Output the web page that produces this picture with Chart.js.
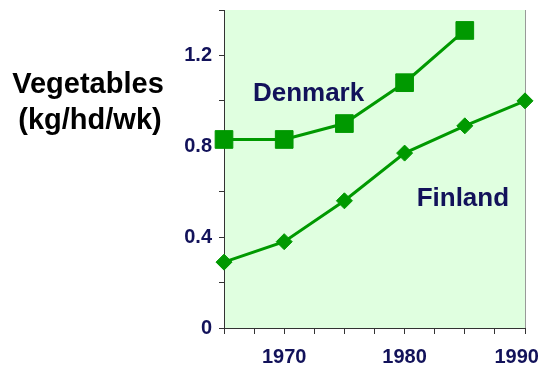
<!DOCTYPE html>
<html>
<head>
<meta charset="utf-8">
<script src="https://cdn.jsdelivr.net/npm/chart.js@4"></script>
<style>
  html, body { margin: 0; padding: 0; background: #fff; }
  #wrap { width: 539px; height: 367px; }
</style>
</head>
<body>
<div id="wrap"><canvas id="vegChart" width="539" height="367"></canvas></div>
<script>
const years = [1965, 1970, 1975, 1980, 1985, 1990];
const denmark = [0.83, 0.83, 0.90, 1.08, 1.31, null];
const finland = [0.29, 0.38, 0.56, 0.77, 0.89, 1.00];
const xLabels = [1970, 1980, 1990];
const yLabels = [0, 0.4, 0.8, 1.2];

const green = '#009900';
const navy = '#12125a';
const font = '"Liberation Sans", Arial, sans-serif';

const toPoints = vals => years.map((y, i) => ({ x: y, y: vals[i] })).filter(p => p.y !== null);

// light green plot background, right border and text labels
const decor = {
  id: 'decor',
  beforeDraw(chart) {
    const { ctx, chartArea: a } = chart;
    ctx.save();
    ctx.fillStyle = '#e0ffe0';
    ctx.fillRect(a.left, a.top, a.right - a.left, a.bottom - a.top);
    ctx.strokeStyle = '#999';
    ctx.lineWidth = 1;
    ctx.beginPath();
    ctx.moveTo(a.right + 0.5, a.top);
    ctx.lineTo(a.right + 0.5, a.bottom);
    ctx.stroke();
    ctx.restore();
  },
  afterDraw(chart) {
    const { ctx, scales } = chart;
    ctx.save();
    ctx.fillStyle = '#000';
    ctx.font = 'bold 29px ' + font;
    ctx.textAlign = 'center';
    ctx.textBaseline = 'alphabetic';
    ctx.fillText('Vegetables', 88, 93);
    ctx.fillText('(kg/hd/wk)', 90, 129);
    ctx.fillStyle = navy;
    ctx.font = 'bold 26px ' + font;
    ctx.textAlign = 'left';
    ctx.fillText('Denmark', scales.x.getPixelForValue(1967.4), scales.y.getPixelForValue(1.0));
    ctx.fillText('Finland', scales.x.getPixelForValue(1981.0), scales.y.getPixelForValue(0.535));
    ctx.restore();
  }
};

new Chart(document.getElementById('vegChart').getContext('2d'), {
  type: 'line',
  data: {
    datasets: [{
      label: 'Denmark',
      data: toPoints(denmark),
      borderColor: green,
      backgroundColor: green,
      borderWidth: 3,
      pointStyle: 'rect',
      pointRadius: 12.5,
      pointBorderWidth: 1,
      clip: false
    }, {
      label: 'Finland',
      data: toPoints(finland),
      borderColor: green,
      backgroundColor: green,
      borderWidth: 3,
      pointStyle: 'rectRot',
      pointRadius: 8,
      pointBorderWidth: 1,
      clip: false
    }]
  },
  options: {
    responsive: false,
    animation: false,
    layout: { autoPadding: false, padding: { top: 10, right: 14, bottom: 0, left: 0 } },
    plugins: { legend: { display: false }, tooltip: { enabled: false } },
    scales: {
      x: {
        type: 'linear',
        min: 1965,
        max: 1990,
        afterFit(s) { s.height = 39; s.paddingLeft = 0; s.paddingRight = 0; },
        afterBuildTicks(s) {
          const t = [];
          for (let v = 1965; v <= 1990; v += 2.5) t.push({ value: v });
          s.ticks = t;
        },
        grid: { drawOnChartArea: false, tickLength: 6, color: '#333' },
        border: { color: '#333', width: 1 },
        ticks: {
          autoSkip: false,
          maxRotation: 0,
          padding: 11,
          color: navy,
          font: { family: font, size: 20, weight: 'bold' },
          // last label pushed left a little so it fits the page, as in the original
          callback: v => !xLabels.includes(v) ? '' : (v === 1990 ? '1990   ' : String(v))
        }
      },
      y: {
        min: 0,
        max: 1.4,
        afterFit(s) { s.width = 224; s.paddingTop = 0; s.paddingBottom = 0; },
        afterBuildTicks(s) {
          const t = [];
          for (let i = 0; i <= 7; i++) t.push({ value: Math.round(i * 0.2 * 10) / 10 });
          s.ticks = t;
        },
        grid: { drawOnChartArea: false, tickLength: 5, color: '#333' },
        border: { color: '#333', width: 1 },
        ticks: {
          autoSkip: false,
          padding: 7,
          color: navy,
          font: { family: font, size: 20, weight: 'bold' },
          callback: v => yLabels.includes(v) ? String(v) : ''
        }
      }
    }
  },
  plugins: [decor]
});
</script>
</body>
</html>
